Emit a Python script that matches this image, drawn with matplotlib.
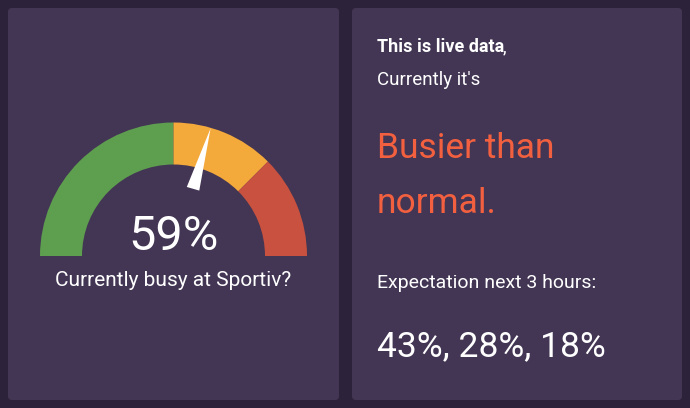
import matplotlib
matplotlib.use("Agg")
import matplotlib.pyplot as plt
import numpy as np
from matplotlib.patches import Wedge, Polygon, FancyBboxPatch

plt.rcParams['font.family'] = ['Roboto', 'DejaVu Sans']

value = 59
bands = [0, 50, 75, 100]
band_colors = ['#5e9e4f', '#f4a93b', '#c9513f']
label = "Currently busy at Sportiv?"
status = "Busier than\nnormal."
forecast = [43, 28, 18]

fig = plt.figure(figsize=(6.9, 4.08), dpi=100)
fig.patch.set_facecolor('#2c2239')
ax = fig.add_axes([0, 0, 1, 1])
ax.set_xlim(0, 690)
ax.set_ylim(408, 0)
ax.axis('off')

# panels
for x0, x1 in [(8, 339), (352, 682)]:
    ax.add_patch(FancyBboxPatch((x0, 8), x1 - x0, 392, boxstyle="round,pad=0,rounding_size=4",
                                fc='#433654', ec='none'))

# gauge
cx, cy, R, r = 173.5, 256, 133.5, 91.5
for lo, hi, c in zip(bands[:-1], bands[1:], band_colors):
    # y axis is inverted, so angles are mirrored
    a1 = 180 + lo * 1.8
    a2 = 180 + hi * 1.8
    ax.add_patch(Wedge((cx, cy), R, a1, a2, width=R - r, fc=c, ec='none'))

ang = np.radians(180 - value * 1.8)
ux, uy = np.cos(ang), -np.sin(ang)
px, py = -uy, ux
tip = (cx + ux * 133, cy + uy * 133)
b1 = (cx + ux * 70 + px * 6.5, cy + uy * 70 + py * 6.5)
b2 = (cx + ux * 70 - px * 6.5, cy + uy * 70 - py * 6.5)
ax.add_patch(Polygon([tip, b1, b2], closed=True, fc='white', ec='none'))

ax.text(cx, 237, f"{value}%", color='white', fontsize=35, ha='center', va='center')
ax.text(cx, 281, label, color='white', fontsize=15, ha='center', va='center')

# right panel
ax.text(377, 47, "This is live data", color='white', fontsize=13, fontweight='bold', va='center')
ax.text(503, 47, ",", color='white', fontsize=13, va='center')
ax.text(377, 80, "Currently it's", color='white', fontsize=13.5, va='center')
ax.text(377, 176, status, color='#f2603f', fontsize=25.5, va='center', linespacing=1.85)
ax.text(377, 283, "Expectation next 3 hours:", color='white', fontsize=14, va='center')
ax.text(377, 347, ", ".join(f"{v}%" for v in forecast), color='white', fontsize=25.5, va='center')

fig.savefig('out.png', dpi=100, facecolor=fig.get_facecolor())
